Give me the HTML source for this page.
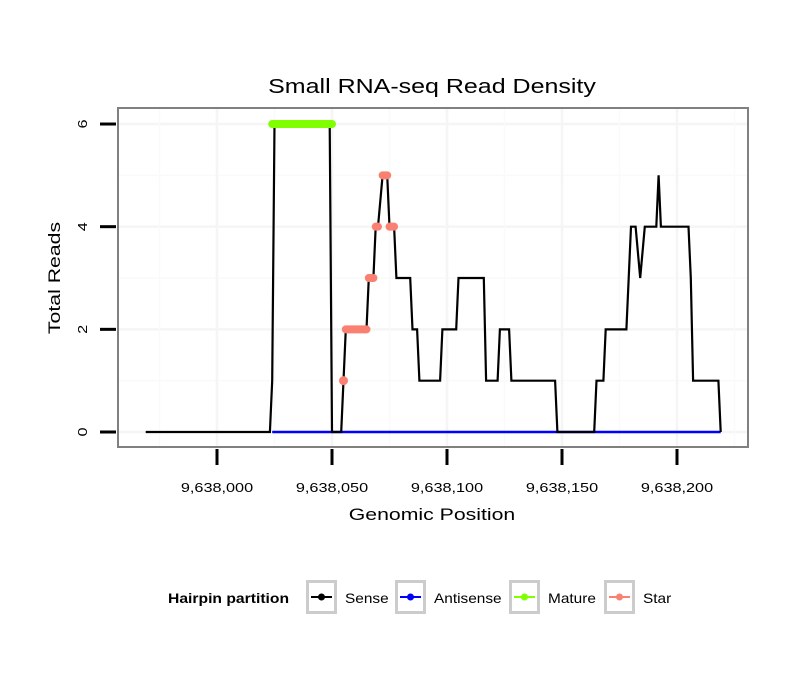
<!DOCTYPE html>
<html><head><meta charset="utf-8"><style>
body{margin:0;background:#fff}
svg text{font-family:"Liberation Sans",sans-serif}
</style></head><body>
<svg id="c" width="810" height="690" xmlns="http://www.w3.org/2000/svg">
<rect width="810" height="690" fill="#fff"/>
<text transform="translate(432,93) scale(1.25,1)" font-size="20" text-anchor="middle">Small RNA-seq Read Density</text>
<g id="grid"></g>
<g id="marks"></g>
<rect x="118" y="108" width="630" height="339" fill="none" stroke="#808080" stroke-width="2"/>
<g id="axes"></g>
<text transform="translate(432,520) scale(1.25,1)" font-size="17" text-anchor="middle">Genomic Position</text>
<text transform="translate(60,278) rotate(-90) scale(1.25,1)" font-size="17" text-anchor="middle">Total Reads</text>
<g>
<text transform="translate(168,603) scale(1.12,1)" font-size="14" font-weight="bold">Hairpin partition</text>
<g id="legend"></g>
</g>
</svg>
<script>
const xTicks=[9638000,9638050,9638100,9638150,9638200];
const xTickLabels=["9,638,000","9,638,050","9,638,100","9,638,150","9,638,200"];
const yTicks=[0,2,4,6];
const senseRuns=[[9637969,0],[9638023,0],[9638024,1],[9638025,6],[9638049,6],[9638050,0],[9638054,0],[9638055,1],[9638056,2],[9638065,2],[9638066,3],[9638068,3],[9638069,4],[9638070,4],[9638072,5],[9638074,5],[9638075,4],[9638077,4],[9638078,3],[9638084,3],[9638085,2],[9638087,2],[9638088,1],[9638097,1],[9638098,2],[9638104,2],[9638105,3],[9638116,3],[9638117,1],[9638122,1],[9638123,2],[9638127,2],[9638128,1],[9638147,1],[9638148,0],[9638164,0],[9638165,1],[9638168,1],[9638169,2],[9638178,2],[9638179,3],[9638180,4],[9638182,4],[9638184,3],[9638186,4],[9638191,4],[9638192,5],[9638193,4],[9638205,4],[9638206,3],[9638207,1],[9638218,1],[9638219,0]];
const antisenseRange=[9638024,9638219];
const matureRuns=[[[9638024,6],[9638050,6]]];
const starRuns=[[[9638055,1]],[[9638056,2],[9638065,2]],[[9638066,3],[9638068,3]],[[9638069,4],[9638070,4]],[[9638072,5],[9638074,5]],[[9638075,4],[9638077,4]]];
const legendLabels=["Sense","Antisense","Mature","Star"];
const legendColors=["#000","#0000ff","#7fff00","#fa8072"];

const NS="http://www.w3.org/2000/svg";
const X=p=>217+(p-9638000)*2.3;
const Y=v=>432-v*51.33;
function mk(t,a,parent){const e=document.createElementNS(NS,t);for(const k in a)e.setAttribute(k,a[k]);parent.appendChild(e);return e;}
const grid=document.getElementById('grid'),marks=document.getElementById('marks'),axes=document.getElementById('axes'),leg=document.getElementById('legend');
for(let v=0;v<=6;v++){const l=mk('line',{x1:118,x2:748,y1:Y(v),y2:Y(v),stroke:v%2?'#fafafa':'#f5f5f5','stroke-width':v%2?1.5:2.5},grid);

}
for(let p=9637975;p<=9638225;p+=25){const l=mk('line',{x1:X(p),x2:X(p),y1:108,y2:447,stroke:(p%50===0)?'#f5f5f5':'#fafafa','stroke-width':(p%50===0)?2.5:1.5},grid);

}
const a=mk('line',{x1:X(antisenseRange[0]),x2:X(antisenseRange[1]),y1:Y(0),y2:Y(0),stroke:'#0000ff','stroke-width':2.5},marks);


const s=mk('polyline',{points:senseRuns.map(d=>X(d[0])+','+Y(d[1])).join(' '),fill:'none',stroke:'#000','stroke-width':2.2,'stroke-linejoin':'miter'},marks);


function drawRuns(runs,color,name){runs.forEach(r=>{let e;
if(r.length===1){e=mk('circle',{cx:X(r[0][0]),cy:Y(r[0][1]),r:4.5,fill:color},marks);}
else{e=mk('polyline',{points:r.map(d=>X(d[0])+','+Y(d[1])).join(' '),fill:'none',stroke:color,'stroke-width':8,'stroke-linecap':'round'},marks);}

});}
drawRuns(matureRuns,'#7fff00','mature-segment');
drawRuns(starRuns,'#fa8072','star-segment');
xTicks.forEach((t,i)=>{const l=mk('line',{x1:X(t),x2:X(t),y1:449,y2:465,stroke:'#000','stroke-width':3},axes);


const tx=mk('text',{transform:`translate(${X(t)},492) scale(1.25,1)`,'font-size':13,'text-anchor':'middle'},axes);tx.textContent=xTickLabels[i];

});
yTicks.forEach(t=>{const l=mk('line',{x1:100,x2:116,y1:Y(t),y2:Y(t),stroke:'#000','stroke-width':3},axes);


const tx=mk('text',{transform:`translate(87,${Y(t)}) rotate(-90) scale(1.25,1)`,'font-size':13,'text-anchor':'middle'},axes);tx.textContent=t;

});
const bx=[306,395,509,604];
legendLabels.forEach((lab,i)=>{const g=mk('g',{},leg);


mk('rect',{x:bx[i]+1.5,y:581.5,width:28,height:31,fill:'#fff',stroke:'#cccccc','stroke-width':3},g);
mk('line',{x1:bx[i]+5,x2:bx[i]+26,y1:597,y2:597,stroke:legendColors[i],'stroke-width':2},g);
mk('circle',{cx:bx[i]+15.5,cy:597,r:3.5,fill:legendColors[i]},g);
const tx=mk('text',{transform:`translate(${bx[i]+39},603) scale(1.1,1)`,'font-size':14},g);tx.textContent=lab;});
</script>
</body></html>
